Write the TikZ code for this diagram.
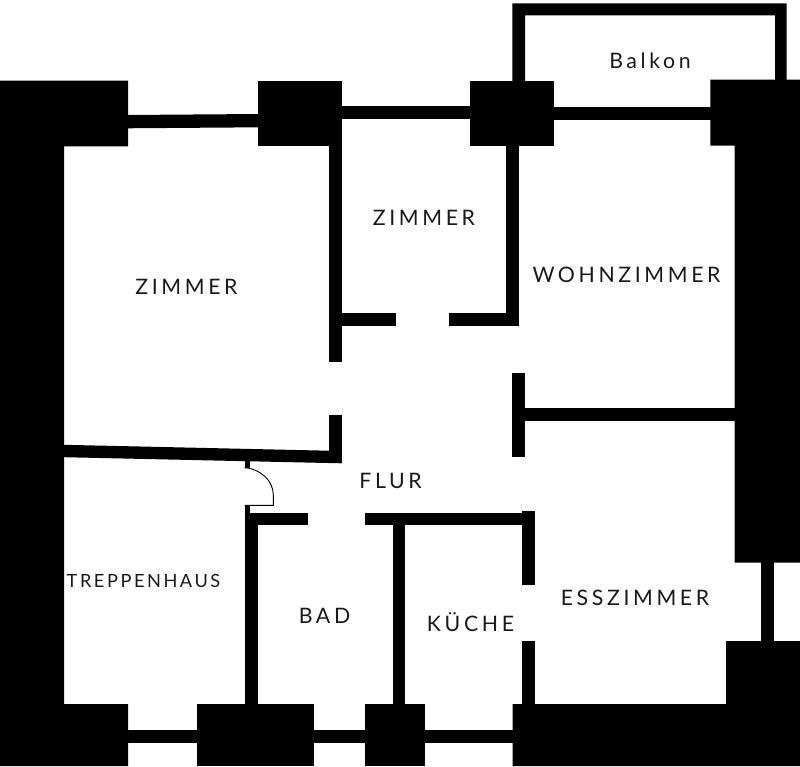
\documentclass[tikz,border=0pt]{standalone}
\usepackage{fontspec}
\setmainfont{Lato}
\newfontfamily\lab[LetterSpace=17]{Lato}
\newfontfamily\labs[LetterSpace=14]{Lato}
\tikzset{
  wall/.style={fill=black,draw=none},
  roomlabel/.style={inner sep=0pt,text=black!90,font=\lab\fontsize{21.3}{24}\selectfont},
  smalllabel/.style={inner sep=0pt,text=black!90,font=\labs\fontsize{18.2}{20}\selectfont},
  doorline/.style={draw=black,line width=0.9pt,fill=white}
}
\begin{document}
\begin{tikzpicture}[x=1pt,y=-1pt]
\useasboundingbox (0,0) rectangle (800,766);
% outer masonry left, with corner blocks
\fill[wall] (0,80.5) -- (128,80.5) -- (128,146.3) -- (64,146.3) -- (64,704) -- (128,704) -- (128,766) -- (0,766) -- cycle;
% upper piers
\fill[wall] (258,80.5) rectangle (341.5,146.3);
\fill[wall] (470.3,80.5) rectangle (554.3,146.3);
% right masonry
\fill[wall] (710.3,79.5) -- (800,79.5) -- (800,562.7) -- (734.5,562.7) -- (734.5,145.5) -- (710.3,145.5) -- cycle;
\fill[wall] (726,641) -- (800,641) -- (800,766) -- (512.5,766) -- (512.5,704) -- (726,704) -- cycle;
\fill[wall] (760.7,560) rectangle (773.7,643);
% lower piers
\fill[wall] (197,704) rectangle (314,766);
\fill[wall] (364.7,704) rectangle (425.3,766);
% exterior links
\fill[wall] (126,115) -- (260,114) -- (260,127.3) -- (126,128.3) -- cycle;
\fill[wall] (340,106) rectangle (472,118.7);
\fill[wall] (552,107) rectangle (712,119.7);
\fill[wall] (126,730.3) rectangle (199,743.3);
\fill[wall] (312,730.3) rectangle (367,743.3);
\fill[wall] (423,730.3) rectangle (514,743.3);
% balcony
\fill[wall] (512.3,82) -- (512.3,3.3) -- (786.7,3.3) -- (786.7,82) -- (775,82) -- (775,15.3) -- (525,15.3) -- (525,82) -- cycle;
% inner walls
\fill[wall] (328.5,145) rectangle (341.7,361.7);
\fill[wall] (340,313.3) rectangle (396,326.3);
\fill[wall] (449.3,313.3) rectangle (518.7,326.3);
\fill[wall] (505.8,145) rectangle (518.7,326.3);
\fill[wall] (512.3,373.3) rectangle (525.3,456.7);
\fill[wall] (525,408.3) rectangle (736,421.3);
\fill[wall] (64,444.8) -- (341.7,451) -- (341.7,463.3) -- (64,457.2) -- cycle;
\fill[wall] (328.5,415) rectangle (341.7,463);
\fill[wall] (245,512.7) rectangle (308.3,525.3);
\fill[wall] (365,512.7) rectangle (523,525.3);
\fill[wall] (245,513) rectangle (257.7,706);
\fill[wall] (392.6,513) rectangle (405.3,706);
\fill[wall] (522.4,511) rectangle (535.3,585);
\fill[wall] (522.4,641.3) rectangle (535.3,706);
% door
\fill[wall] (244.5,450.7) rectangle (249.7,467.7);
\fill[wall] (244.5,505.5) rectangle (249.7,522);
\path[doorline] (244.5,467.7) .. controls (261,469) and (273.3,481) .. (273.3,495) -- (273.3,505.4) -- (244.5,505.4);
% labels
\node[roomlabel] (balkon) at (650,61) {Balkon};
\node[roomlabel] (zimmera) at (186.5,286.5) {ZIMMER};
\node[roomlabel] (zimmerb) at (424,217.5) {ZIMMER};
\node[roomlabel] (wohn) at (626.5,274.5) {WOHNZIMMER};
\node[roomlabel] (flur) at (390.5,480.5) {FLUR};
\node[smalllabel] (trepp) at (143.5,581) {TREPPENHAUS};
\node[roomlabel] (bad) at (324.5,615.5) {BAD};
\node[roomlabel] (kueche) at (470.5,622.5) {KÜCHE};
\node[roomlabel] (ess) at (635,597.5) {ESSZIMMER};
\end{tikzpicture}
\end{document}
